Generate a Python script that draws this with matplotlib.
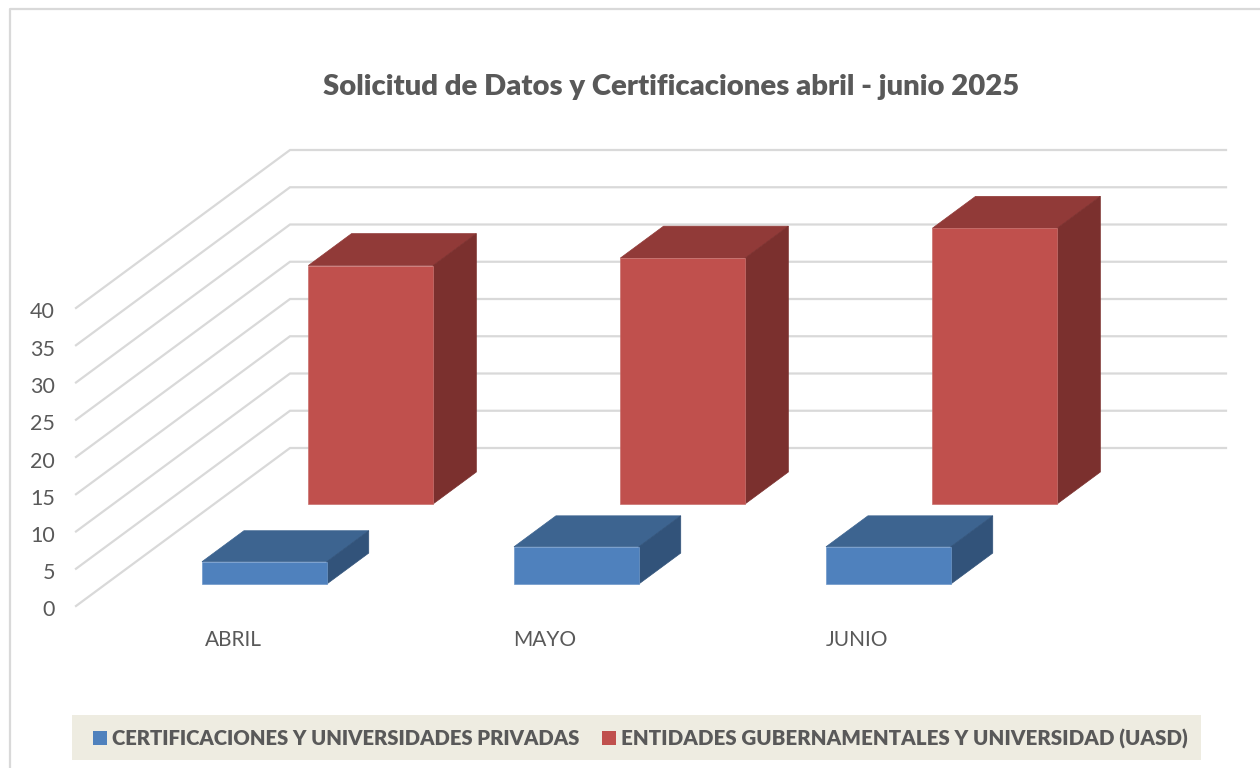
import matplotlib
matplotlib.use("Agg")
import matplotlib.pyplot as plt
from matplotlib.patches import Polygon, Rectangle

plt.rcParams['font.family'] = ['Lato', 'DejaVu Sans']

title = "Solicitud de Datos y Certificaciones abril - junio 2025"
months = ["ABRIL", "MAYO", "JUNIO"]
private_values = [3, 5, 5]
public_values = [32, 33, 37]
series_names = ["CERTIFICACIONES Y UNIVERSIDADES PRIVADAS",
                "ENTIDADES GUBERNAMENTALES Y UNIVERSIDAD (UASD)"]
y_ticks = [0, 5, 10, 15, 20, 25, 30, 35, 40]

# oblique projection (pixel geometry of the 3D chart)
X0, Y0, PITCH = 76, 606, 312
WALL_DX, WALL_DY, UNIT = 214, 158, 7.45
BAR_W = 0.40
ROWS = {0: (0.139, 0.335), 1: (0.646, 0.848)}
ROW_SHIFT = {0: 0.0085, 1: 0.0015}


def proj(cat, val, depth):
    return (X0 + PITCH * cat + WALL_DX * depth, Y0 - UNIT * val - WALL_DY * depth)


fig = plt.figure(figsize=(12.6, 7.68), dpi=100, facecolor="white")
ax = fig.add_axes([0, 0, 1, 1])
ax.set_xlim(0, 1260)
ax.set_ylim(768, 0)
ax.axis("off")

# chart frame
ax.plot([9.5, 9.5, 1260], [768, 9, 9], color="#d9d9d9", lw=1.6, zorder=1)

# gridlines
for v in y_ticks:
    pts = [proj(0, v, 0), proj(0, v, 1), proj(3, v, 1)]
    ax.plot(*zip(*pts), color="#d9d9d9", lw=1.6, solid_joinstyle="miter", zorder=1)
    ax.text(pts[0][0] - 21, pts[0][1] + 4.5, str(v), ha="right", va="center",
            fontsize=15.5, color="#595959")


def bar(cat, val, row, front, top, side, edge):
    x0 = cat + 0.5 - BAR_W / 2 + ROW_SHIFT[row]
    x1 = cat + 0.5 + BAR_W / 2 + ROW_SHIFT[row]
    d0, d1 = ROWS[row]
    z = 3 + row * -1
    ax.add_patch(Polygon([proj(x0, val, d0), proj(x1, val, d0), proj(x1, val, d1), proj(x0, val, d1)],
                         fc=top, ec=top, lw=0.5, zorder=z))
    ax.add_patch(Polygon([proj(x1, 0, d0), proj(x1, val, d0), proj(x1, val, d1), proj(x1, 0, d1)],
                         fc=side, ec=side, lw=0.5, zorder=z))
    ax.add_patch(Polygon([proj(x0, 0, d0), proj(x1, 0, d0), proj(x1, val, d0), proj(x0, val, d0)],
                         fc=front, ec=edge, lw=0.5, zorder=z))


for i, v in enumerate(public_values):
    bar(i, v, 1, "#c0504d", "#913a38", "#7b302e", "#c9706d")
for i, v in enumerate(private_values):
    bar(i, v, 0, "#4f81bd", "#3d6490", "#32537a", "#6f98ca")

# category labels
for i, m in enumerate(months):
    ax.text(proj(i + 0.5, 0, 0)[0] + 1, 639.5, m, ha="center", va="center",
            fontsize=15, color="#595959")

ax.text(671, 87, title, ha="center", va="center", fontsize=21.1, fontweight=800, color="#595959")

# legend
ax.add_patch(Rectangle((72, 715), 1129, 45, fc="#eeece1", ec="none", zorder=2))
ax.add_patch(Rectangle((93, 731), 14, 14, fc="#4f81bd", ec="none", zorder=3))
ax.add_patch(Rectangle((602, 731), 14, 14, fc="#c0504d", ec="none", zorder=3))
ax.text(112, 738.5, series_names[0], ha="left", va="center", fontsize=14.6, fontweight=800, color="#595959", zorder=4)
ax.text(621, 738.5, series_names[1], ha="left", va="center", fontsize=14.8, fontweight=800, color="#595959", zorder=4)

fig.savefig("out.png", dpi=100, facecolor="white")
